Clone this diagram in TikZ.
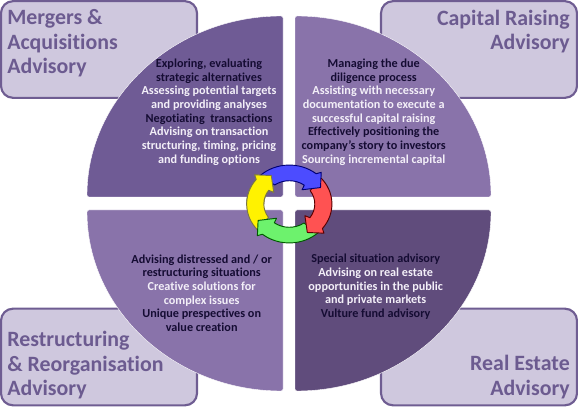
\documentclass[tikz,border=0pt]{standalone}
\usepackage{fontspec}
\setmainfont[Ligatures=NoCommon]{Carlito}
\definecolor{boxfill}{HTML}{CFC8DE}
\definecolor{boxline}{HTML}{6F5D92}
\definecolor{titlecol}{HTML}{6C5B90}
\definecolor{quadA}{HTML}{6F5B95}
\definecolor{quadB}{HTML}{8973AA}
\definecolor{quadC}{HTML}{604C7C}
\definecolor{darktxt}{HTML}{150C33}
\definecolor{lighttxt}{HTML}{F3EFF8}
\newcommand{\dk}[1]{\textcolor{darktxt}{#1}}
\newcommand{\lt}[1]{\textcolor{lighttxt}{#1}}
\newcommand{\ringarrow}[3]{%
  \begin{scope}[rotate=#1]
    \filldraw[fill=#2,draw=#3,line width=0.7pt,line join=round]
      (133:41) arc[start angle=133,end angle=51,radius=41]
      -- (30.7,33.3) -- (30,17.3) -- (12.3,15) -- (54:24.5)
      arc[start angle=54,end angle=125,radius=24.5] -- cycle;
  \end{scope}}
\tikzset{
  x=0.75pt,y=0.75pt,
  advbox/.style={draw=boxline,line width=1.6pt,fill=boxfill,rounded corners=9pt,minimum width=147pt,minimum height=72.5pt,inner sep=0pt},
  quadrant/.style={rounded corners=1.5pt,draw=white,line width=0.3pt},
  bodytext/.style={align=center,inner sep=0pt,font=\bfseries\fontsize{9.15}{10.25}\selectfont},
  titleL/.style={text=titlecol,align=left,anchor=north west,inner sep=0pt,font=\bfseries\fontsize{16.4}{18.4}\selectfont},
  titleR/.style={text=titlecol,align=right,anchor=north east,inner sep=0pt,font=\bfseries\fontsize{16.4}{18.4}\selectfont},
}
\begin{document}
\begin{tikzpicture}
\useasboundingbox (0,0) rectangle (578,407);
\node[advbox] (boxTL) at (99,357.5) {};
\node[advbox] (boxTR) at (479,357.5) {};
\node[advbox] (boxBL) at (99,50) {};
\node[advbox] (boxBR) at (479,50) {};
\fill[quadA,quadrant] (283,210) -- (87,210) arc[start angle=180,end angle=90,x radius=196,y radius=181] -- cycle;
\fill[quadB,quadrant] (295,210) -- (295,391) arc[start angle=90,end angle=0,x radius=196,y radius=181] -- cycle;
\fill[quadB,quadrant] (283,197) -- (283,16) arc[start angle=270,end angle=180,x radius=196,y radius=181] -- cycle;
\fill[quadC,quadrant] (295,197) -- (491,197) arc[start angle=0,end angle=-90,x radius=196,y radius=181] -- cycle;
\node[titleL] (tTL) at (7,397.5) {Mergers \&\\Acquisitions\\Advisory};
\node[titleR] (tTR) at (570,397.5) {Capital Raising\\Advisory};
\node[titleL] (tBL) at (7,76) {Restructuring\\\& Reorganisation\\Advisory};
\node[titleR] (tBR) at (570,52) {Real Estate\\Advisory};
\node[bodytext] (bTL) at (209,295) {\dk{Exploring, evaluating}\\\dk{strategic alternatives}\\\lt{Assessing potential targets}\\\lt{and providing analyses}\\\dk{Negotiating\ \ transactions}\\\lt{Advising on transaction}\\\lt{structuring, timing, pricing}\\\lt{and funding options}};
\node[bodytext] (bTR) at (373.7,295) {\dk{Managing the due}\\\dk{diligence process}\\\lt{Assisting with necessary}\\\lt{documentation to execute a}\\\lt{successful capital raising}\\\dk{Effectively positioning the}\\\dk{company's story to investors}\\\lt{Sourcing incremental capital}};
\node[bodytext] (bBL) at (201.7,114) {\dk{Advising distressed and / or}\\\dk{restructuring situations}\\\lt{Creative solutions for}\\\lt{complex issues}\\\dk{Unique prespectives on}\\\dk{value creation}};
\node[bodytext] (bBR) at (375.7,120) {\dk{Special situation advisory}\\\lt{Advising on real estate}\\\lt{opportunities in the public}\\\lt{and private markets}\\\dk{Vulture fund advisory}};
\begin{scope}[shift={(289.3,203)},xscale=1.04,yscale=0.95]
  \ringarrow{90}{yellow!100!white}{black!60!yellow}
  \ringarrow{180}{green!55!white!95!black}{green!35!black}
  \ringarrow{270}{red!68!white}{red!35!black}
  \ringarrow{0}{blue!70!white}{blue!45!black}
  \begin{scope}
    \clip (-60,0) rectangle (0,60);
    \ringarrow{90}{yellow!100!white}{black!60!yellow}
  \end{scope}
\end{scope}
\end{tikzpicture}
\end{document}
